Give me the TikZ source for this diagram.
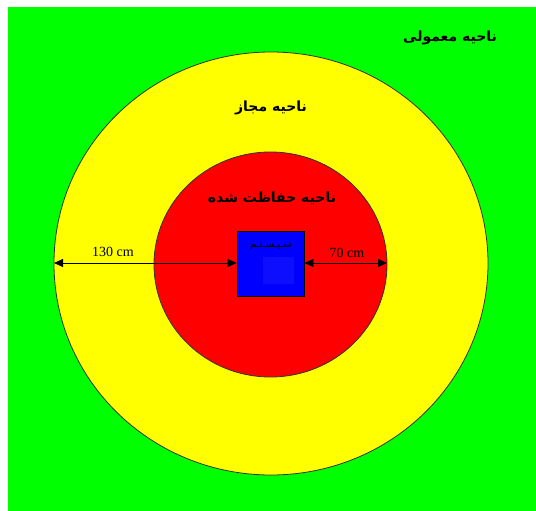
\documentclass[tikz,border=0pt]{standalone}
\usepackage{fontspec}
\setmainfont{Liberation Serif}
\newfontfamily\arabicfont[Script=Arabic]{DejaVu Sans}
\TeXXeTstate=1
\usetikzlibrary{arrows.meta}
\definecolor{zgreen}{RGB}{0,255,0}
\definecolor{zyellow}{RGB}{255,255,0}
\definecolor{zred}{RGB}{255,0,0}
\definecolor{zblue}{RGB}{0,0,255}
\definecolor{zblueinner}{RGB}{14,14,255}
\tikzset{
  zone/.style={draw=black!80, line width=0.8pt},
  falabel/.style={font=\arabicfont\bfseries\fontsize{14}{16}\selectfont, inner sep=0pt},
  dimlabel/.style={font=\fontsize{14}{16}\selectfont, inner sep=0pt},
  dimline/.style={line width=0.8pt, {Triangle[length=9pt,width=8pt]}-{Triangle[length=9pt,width=8pt]}},
}
\begin{document}
\begin{tikzpicture}[x=1pt,y=-1pt]
\useasboundingbox (0,0) rectangle (536,511);
\fill[zgreen] (8,7) rectangle (536,511);
\draw[zone, fill=zyellow] (271,263.5) ellipse [x radius=217, y radius=211.5];
\draw[zone, fill=zred] (270.5,264.5) ellipse [x radius=116.5, y radius=112.5];
\node[draw=black, line width=0.8pt, fill=zblue, minimum width=67pt, minimum height=65pt, inner sep=0pt] (box) at (270.5,263.5) {};
\fill[zblueinner] (263,257) rectangle (294,284);
\node[font=\arabicfont\fontsize{10}{11}\selectfont, inner sep=0pt] (sys) at (271,246) {\beginR سـیـسـتـم\endR};
\coordinate (yl) at (54,263);
\coordinate (rr) at (387,263);
\draw[dimline] (yl) -- (box.west |- yl);
\draw[dimline] (box.east |- rr) -- (rr);
\node[dimlabel] (l130) at (113,252) {130 cm};
\node[dimlabel] (l70) at (347,253) {70 cm};
\node[falabel] (normal) at (450,38) {\beginR ناحیه معمولی\endR};
\node[falabel] (allowed) at (271,108) {\beginR ناحیه مجاز\endR};
\node[falabel] (protected) at (272,198) {\beginR ناحیه حفاظت شده\endR};
\end{tikzpicture}
\end{document}
